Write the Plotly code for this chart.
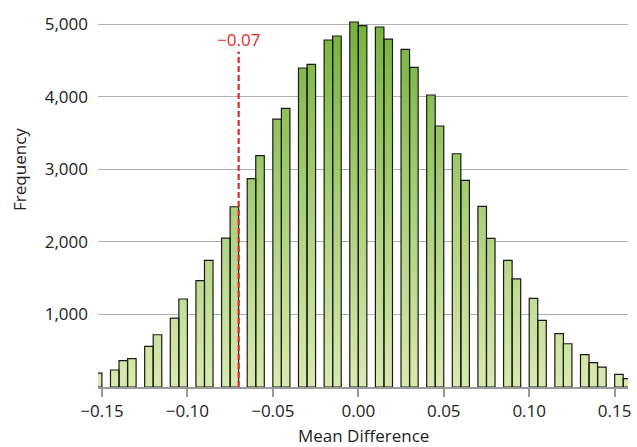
import plotly.graph_objects as go

# ---- data ----
bin_left = [-0.155, -0.150, -0.145, -0.140, -0.135, -0.130, -0.125, -0.120, -0.115, -0.110,
            -0.105, -0.100, -0.095, -0.090, -0.085, -0.080, -0.075, -0.070, -0.065, -0.060,
            -0.055, -0.050, -0.045, -0.040, -0.035, -0.030, -0.025, -0.020, -0.015, -0.010,
            -0.005, 0.000, 0.005, 0.010, 0.015, 0.020, 0.025, 0.030, 0.035, 0.040,
            0.045, 0.050, 0.055, 0.060, 0.065, 0.070, 0.075, 0.080, 0.085, 0.090,
            0.095, 0.100, 0.105, 0.110, 0.115, 0.120, 0.125, 0.130, 0.135, 0.140,
            0.145, 0.150, 0.155]
counts = [190, 0, 234, 362, 390, 0, 559, 720, 0, 950,
          1212, 0, 1464, 1744, 0, 2052, 2483, 0, 2869, 3186,
          0, 3691, 3838, 0, 4394, 4444, 0, 4780, 4835, 0,
          5028, 4977, 0, 4959, 4793, 0, 4650, 4402, 0, 4022,
          3595, 0, 3213, 2846, 0, 2488, 2047, 0, 1744, 1488,
          0, 1221, 918, 0, 734, 596, 0, 445, 335, 275,
          0, 174, 114]
bin_width = 0.005
observed = -0.07
observed_label = "\u22120.07"

x_tickvals = [-0.15, -0.10, -0.05, 0.0, 0.05, 0.10, 0.15]
x_ticktext = ["\u22120.15", "\u22120.10", "\u22120.05", "0.00", "0.05", "0.10", "0.15"]
y_tickvals = [1000, 2000, 3000, 4000, 5000]
y_ticktext = ["1,000", "2,000", "3,000", "4,000", "5,000"]

# ---- build bar outlines from the data ----
px, py = [], []
for l, c in zip(bin_left, counts):
    if c <= 0:
        continue
    r = l + bin_width
    px += [l, l, r, r, l, None]
    py += [0, c, c, 0, 0, None]

font_family = "Open Sans, Noto Sans, sans-serif"
text_color = "#222222"

fig = go.Figure()
fig.add_trace(go.Scatter(
    x=px, y=py, mode="lines", fill="toself",
    fillgradient=dict(type="vertical",
                      colorscale=[[0, "#d9eaae"], [0.5, "#a9cf78"], [1, "#74b23a"]],
                      start=0, stop=5050),
    line=dict(color="#1a1a1a", width=1.2),
    hoverinfo="skip", showlegend=False,
))

fig.add_shape(type="line", x0=observed, x1=observed, y0=0, y1=4620,
              xref="x", yref="y",
              line=dict(color="#e8262b", width=2.2, dash="6px,3px"))
fig.add_annotation(x=observed, y=4790, xref="x", yref="y", text=observed_label,
                   showarrow=False, font=dict(color="#e8262b", size=17, family=font_family),
                   xanchor="center", yanchor="middle")

# axis titles as annotations for exact placement
fig.add_annotation(x=-0.147, y=0.576, xref="x domain", yref="paper", text="Frequency",
                   showarrow=False, textangle=-90, xanchor="center", yanchor="middle",
                   font=dict(size=17, color=text_color, family=font_family))
fig.add_annotation(x=0.5, y=-0.128, xref="paper", yref="paper", text="Mean Difference",
                   showarrow=False, xanchor="center", yanchor="middle",
                   font=dict(size=17, color=text_color, family=font_family))

fig.update_layout(
    width=637, height=447,
    margin=dict(l=98, r=6, t=10, b=60),
    paper_bgcolor="white", plot_bgcolor="white",
    font=dict(family=font_family, size=17, color=text_color),
    showlegend=False,
)
fig.update_xaxes(
    range=[-0.1523, 0.1578],
    tickvals=x_tickvals, ticktext=x_ticktext,
    showgrid=False, zeroline=False,
    showline=True, linecolor="#9a9a9a", linewidth=1.5,
    ticks="outside", ticklen=8, tickcolor="#9a9a9a", tickwidth=1.5,
    tickfont=dict(size=17),
)
fig.update_yaxes(
    range=[0, 5193],
    tickvals=y_tickvals, ticktext=y_ticktext,
    showgrid=True, gridcolor="#b0b0b0", gridwidth=1.3,
    zeroline=False, showline=False,
    ticks="", ticklabelstandoff=9,
    tickfont=dict(size=17),
)

fig.write_html("out.html")
